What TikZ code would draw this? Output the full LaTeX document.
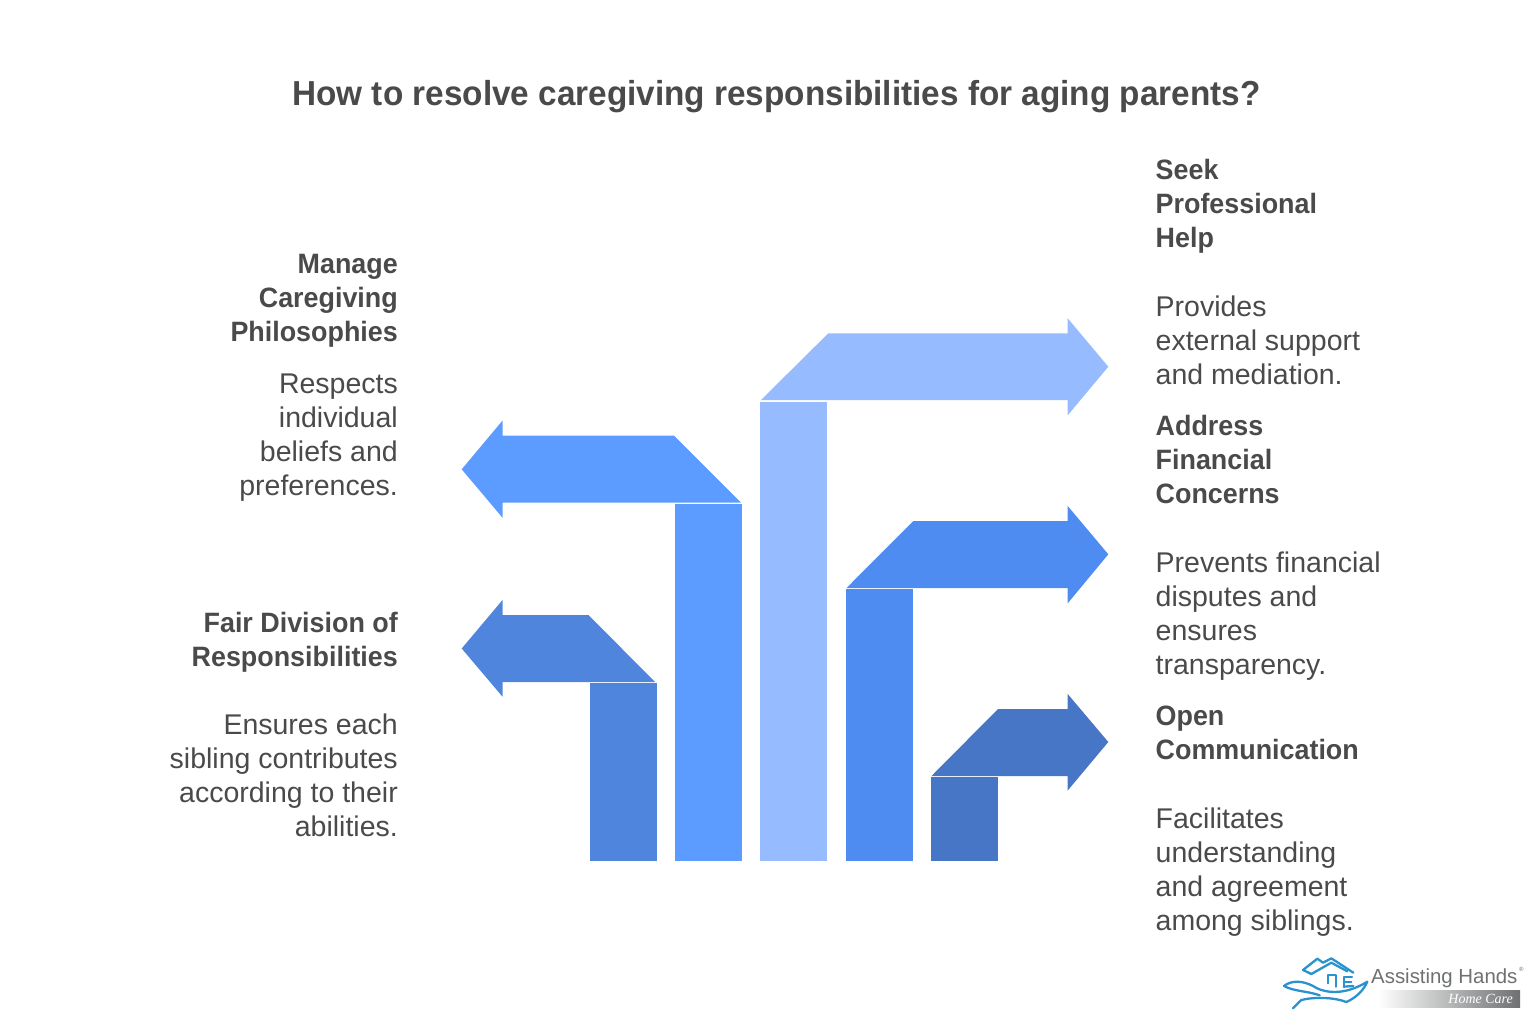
\documentclass[tikz,border=0pt]{standalone}
\usepackage{fontspec}
\setmainfont[BoldFeatures={FakeStretch=0.96}]{Liberation Sans}
\newfontfamily\logofont{Liberation Serif}
\definecolor{txtgray}{HTML}{4A4A4A}
\definecolor{arrowa}{HTML}{5C9BFF}
\definecolor{arrowb}{HTML}{4F85DD}
\definecolor{arrowc}{HTML}{96BCFF}
\definecolor{arrowd}{HTML}{4E8CF1}
\definecolor{arrowe}{HTML}{4876C6}
\definecolor{logoblue}{HTML}{2A93CF}
\definecolor{logogray}{HTML}{6E7072}
\begin{document}
\begin{tikzpicture}[x=1pt,y=-1pt,
  headline/.style = {inner sep=0,text=txtgray,font=\fontsize{28}{34}\selectfont\bfseries,execute at begin node=\strut},
  bodyline/.style = {inner sep=0,text=txtgray,font=\fontsize{28.5}{34}\selectfont,execute at begin node=\strut},
  leftside/.style = {anchor=north east,align=right},
  rightside/.style = {anchor=north west,align=left},
  logoline/.style = {draw=logoblue,line width=2.3pt,line join=round,line cap=round}]
\useasboundingbox (0,0) rectangle (1536,1024);

\node[inner sep=0,text=txtgray,font=\fontsize{34.7}{40}\selectfont\bfseries] (title) at (776.5,97) {How to resolve caregiving responsibilities for aging parents?};

% arrows
\fill[arrowb] (589.5,683) rectangle (656.5,861);
\fill[arrowb] (655,682) -- (588.5,615) -- (502.5,615) -- (502.5,600) -- (461.7,648.5) -- (502.5,696.7) -- (502.5,682) -- cycle;
\fill[arrowa] (675,504) rectangle (742,861);
\fill[arrowa] (741,502.7) -- (674,435.7) -- (502.5,435.7) -- (502.5,420.6) -- (461.7,469.3) -- (502.5,517.7) -- (502.5,502.7) -- cycle;
\fill[arrowc] (760,401.5) rectangle (827.3,861);
\fill[arrowc] (761,400) -- (828.3,333.3) -- (1067.7,333.3) -- (1067.7,318.3) -- (1108.3,366.7) -- (1067.7,415.3) -- (1067.7,400) -- cycle;
\fill[arrowd] (845.7,589.3) rectangle (912.5,861);
\fill[arrowd] (846.5,588) -- (913.3,521) -- (1067.7,521) -- (1067.7,506) -- (1108.3,554.3) -- (1067.7,603.3) -- (1067.7,588) -- cycle;
\fill[arrowe] (931,777.3) rectangle (998,861);
\fill[arrowe] (931.5,776) -- (998,709) -- (1067.7,709) -- (1067.7,694) -- (1108.3,742) -- (1067.7,790.5) -- (1067.7,776) -- cycle;

% left texts
\node[headline,leftside] (philoshead) at (398,254.2) {Manage\\Caregiving\\Philosophies};
\node[bodyline,leftside] (philosbody) at (398,373.7) {Respects\\individual\\beliefs and\\preferences.};
\node[headline,leftside] (fairhead) at (398,612.2) {Fair Division of\\Responsibilities};
\node[bodyline,leftside] (fairbody) at (398,713.5) {Ensures each\\sibling contributes\\according to their\\abilities.};

% right texts
\node[headline,rightside] (seekhead) at (1155.5,159.5) {Seek\\Professional\\Help};
\node[bodyline,rightside] (seekbody) at (1155.5,295.5) {Provides\\external support\\and mediation.};
\node[headline,rightside] (moneyhead) at (1155.5,415.5) {Address\\Financial\\Concerns};
\node[bodyline,rightside] (moneybody) at (1155.5,551.5) {Prevents financial\\disputes and\\ensures\\transparency.};
\node[headline,rightside] (openhead) at (1155.5,706) {Open\\Communication};
\node[bodyline,rightside] (openbody) at (1155.5,807.5) {Facilitates\\understanding\\and agreement\\among siblings.};

% logo
\begin{scope}[shift={(1278,950)},x=0.3333pt,y=-0.3333pt]
\draw[logoline] (100,72) -- (75,60) -- (118,26) -- (135,38) -- (160,25) -- (226,68);
\draw[logoline] (100,72) -- (160,38) -- (208,64);
\draw[logoline] (150,100) -- (150,75) -- (175,75) -- (175,110);
\draw[logoline] (197,110) -- (197,80) -- (222,80);
\draw[logoline] (197,96) -- (220,96);
\draw[logoline] (197,110) -- (226,108);
\draw[logoline] (18,108) .. controls (40,90) and (75,92) .. (105,108) .. controls (135,128) and (195,140) .. (268,95) .. controls (255,125) and (230,145) .. (205,156) .. controls (170,142) and (110,140) .. (70,150) -- (45,175);
\draw[logoline] (18,108) .. controls (50,125) and (85,122) .. (125,136);
\end{scope}
\node[inner sep=0,anchor=base west,text=logogray,font=\fontsize{20.4}{24}\selectfont] (logoname) at (1371,983) {Assisting Hands};
\node[inner sep=0,anchor=base west,text=logogray,font=\fontsize{6}{8}\selectfont] (logomark) at (1519,971) {®};
\shade[left color=white,right color=logogray] (1378,990) rectangle (1520,1007);
\node[inner sep=0,anchor=base east,text=white,font=\logofont\itshape\fontsize{14}{16}\selectfont] (logotag) at (1513,1003) {Home Care};
\end{tikzpicture}
\end{document}
